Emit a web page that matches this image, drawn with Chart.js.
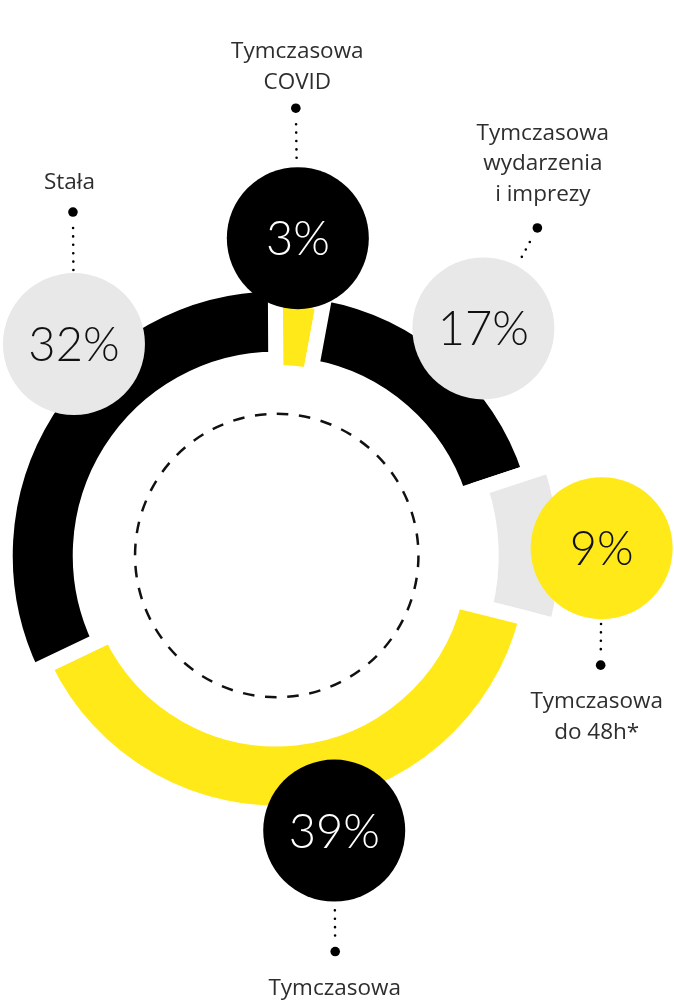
<!DOCTYPE html>
<html>
<head>
<meta charset="utf-8">
<script src="https://cdn.jsdelivr.net/npm/chart.js@4.4.1/dist/chart.umd.min.js"></script>
<style>
  html, body { margin: 0; padding: 0; background: #fff; }
  canvas { display: block; }
</style>
</head>
<body>
<canvas id="contracts_chart" width="674" height="1002"></canvas>
<script>
// contract types, clockwise from 12 o'clock
const categories = [
  ['Tymczasowa', 'COVID'],
  ['Tymczasowa', 'wydarzenia', 'i imprezy'],
  ['Tymczasowa', 'do 48h*'],
  ['Tymczasowa'],
  ['Stała']
];
const shares = [3, 17, 9, 39, 32];

const YELLOW = '#ffe919';
const BLACK = '#000000';
const GREY = '#e8e8e8';
const GAP = 15;

// each slice sits on its own radius
const ringStyle = {
  outer: [249.5, 259, 281.5, 250, 264],
  inner: [190.5, 199, 222, 191, 204]
};

// bubble with the percentage, leader dot and caption (offsets from bubble centre)
const bubbleStyle = [
  { angle: 3.8,   dist: 318, fill: BLACK,  ink: '#fff', dot: [-2, -130],  caption: [-0.5, -180] },
  { angle: 42.3,  dist: 307, fill: GREY,   ink: '#111', dot: [54, -100.5], caption: [59.5, -188.5] },
  { angle: 88.7,  dist: 325, fill: YELLOW, ink: '#111', dot: [-1, 117],   caption: [-5, 160] },
  { angle: 168.2, dist: 281, fill: BLACK,  ink: '#fff', dot: [1, 121],    caption: [0.5, 164] },
  { angle: 316.2, dist: 293, fill: GREY,   ink: '#111', dot: [-1, -132],  caption: [-4.5, -155] }
];

const ringOffsets = {
  id: 'ringOffsets',
  beforeDatasetsDraw(chart) {
    chart.getDatasetMeta(0).data.forEach((arc, i) => {
      arc.outerRadius = ringStyle.outer[i] + GAP / 2;
      arc.innerRadius = ringStyle.inner[i] - GAP / 2;
    });
  }
};

const bubbleLabels = {
  id: 'bubbleLabels',
  afterDatasetsDraw(chart) {
    const {ctx} = chart;
    const first = chart.getDatasetMeta(0).data[0];
    const cx = first.x, cy = first.y;

    // dashed inner circle
    ctx.save();
    const r0 = 141.7;
    const period = 2 * Math.PI * r0 / 40;
    ctx.setLineDash([period * 0.52, period * 0.48]);
    ctx.lineWidth = 2.5;
    ctx.strokeStyle = '#111';
    ctx.beginPath();
    ctx.arc(cx, cy, r0, -Math.PI / 2, 1.5 * Math.PI);
    ctx.stroke();
    ctx.restore();

    const R = 71;
    bubbleStyle.forEach((b, i) => {
      const a = b.angle * Math.PI / 180;
      const bx = cx + b.dist * Math.sin(a);
      const by = cy - b.dist * Math.cos(a);

      // leader: dotted line from dot to bubble edge
      const dx = b.dot[0], dy = b.dot[1];
      const len = Math.hypot(dx, dy);
      const ux = -dx / len, uy = -dy / len;
      const px = bx + dx, py = by + dy;
      ctx.save();
      ctx.strokeStyle = '#000';
      ctx.lineWidth = 2.6;
      ctx.lineCap = 'round';
      ctx.setLineDash([0, 8.4]);
      ctx.beginPath();
      ctx.moveTo(px + ux * 16, py + uy * 16);
      ctx.lineTo(px + ux * (len - R - 2), py + uy * (len - R - 2));
      ctx.stroke();
      ctx.restore();
      ctx.beginPath();
      ctx.fillStyle = '#000';
      ctx.arc(px, py, 4.8, 0, 2 * Math.PI);
      ctx.fill();

      // bubble
      ctx.beginPath();
      ctx.fillStyle = b.fill;
      ctx.arc(bx, by, R, 0, 2 * Math.PI);
      ctx.fill();

      ctx.fillStyle = b.ink;
      ctx.font = '300 47px Lato';
      ctx.textAlign = 'center';
      ctx.textBaseline = 'alphabetic';
      ctx.fillText(shares[i] + '%', bx, by + 17);

      // caption
      ctx.fillStyle = '#2e2e2e';
      ctx.font = '400 22.5px "Open Sans"';
      const lines = chart.data.labels[i];
      lines.forEach((line, k) => {
        ctx.fillText(line, bx + b.caption[0], by + b.caption[1] + k * 30.5);
      });
    });
  }
};

new Chart(document.getElementById('contracts_chart'), {
  type: 'doughnut',
  data: {
    labels: categories,
    datasets: [{
      data: shares,
      backgroundColor: [YELLOW, BLACK, GREY, YELLOW, BLACK],
      borderColor: '#ffffff',
      borderWidth: GAP,
      borderJoinStyle: 'miter'
    }]
  },
  options: {
    responsive: false,
    animation: false,
    rotation: -0.3,
    cutout: '76%',
    layout: { padding: { left: 26.5, right: 147, top: 305.5, bottom: 196.5 } },
    plugins: {
      legend: { display: false },
      tooltip: { enabled: false }
    }
  },
  plugins: [ringOffsets, bubbleLabels]
});
</script>
</body>
</html>
